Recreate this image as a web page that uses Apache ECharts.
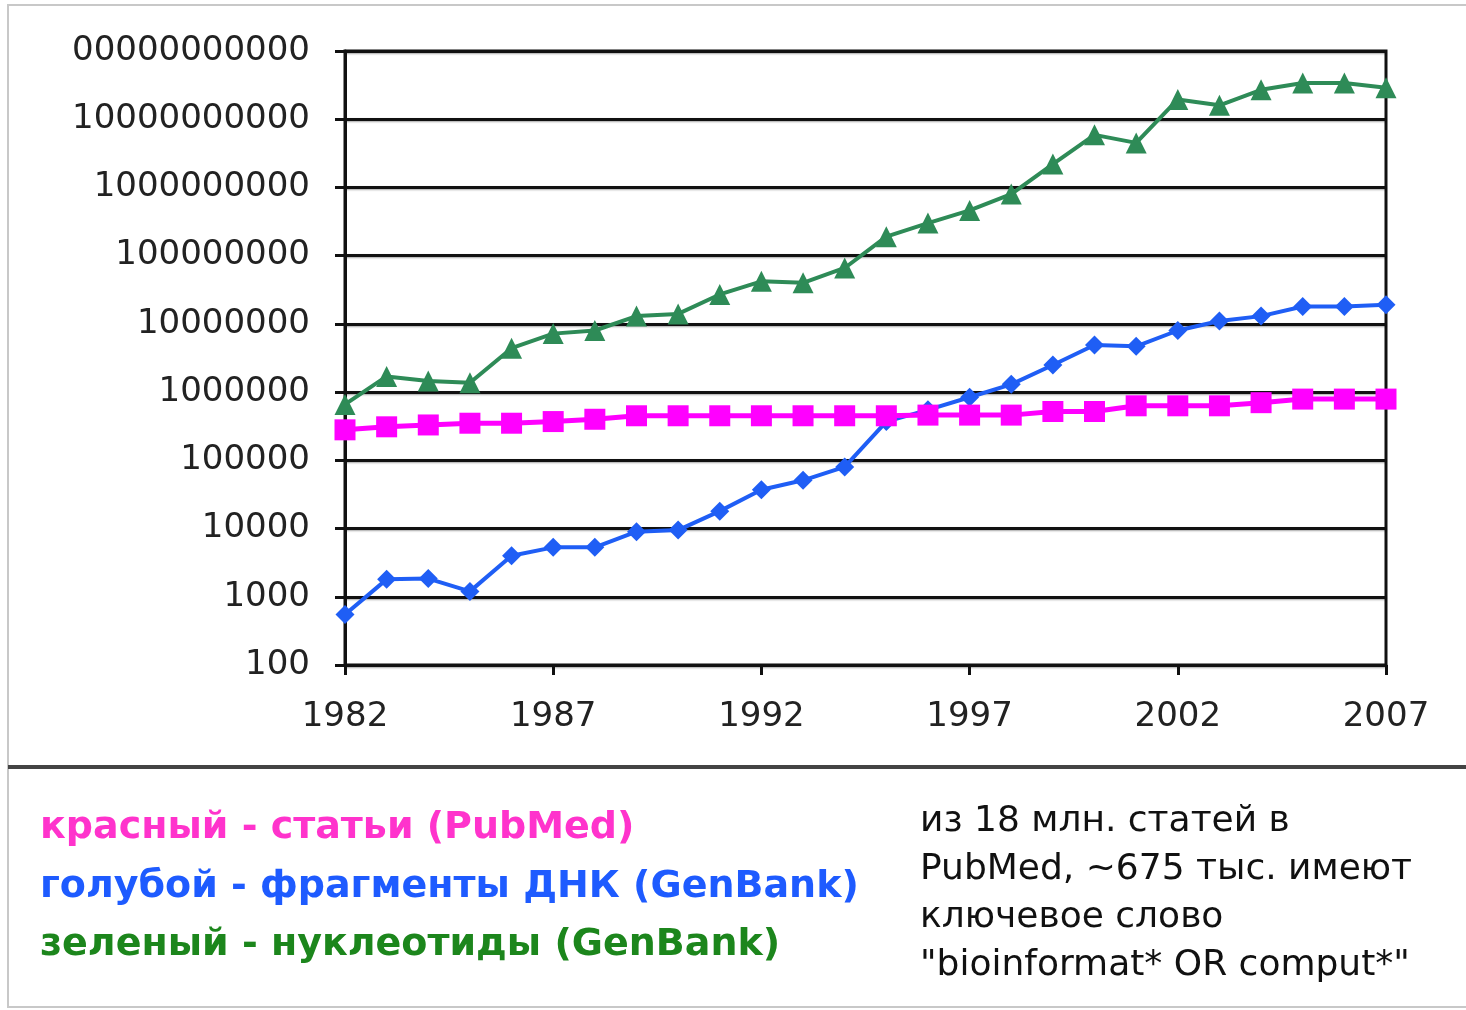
<!DOCTYPE html>
<html>
<head>
<meta charset="utf-8">
<script src="https://cdn.jsdelivr.net/npm/echarts@6/dist/echarts.min.js"></script>
<style>
html,body{margin:0;padding:0;background:#fff;}
#chart{width:1466px;height:1010px;}
</style>
</head>
<body>
<div id="chart"></div>
<script>
var years = ['1982','1983','1984','1985','1986','1987','1988','1989','1990','1991','1992','1993','1994','1995','1996','1997','1998','1999','2000','2001','2002','2003','2004','2005','2006','2007'];
var pubmedArticles = [280000,310000,330000,350000,350000,370000,400000,450000,450000,450000,450000,450000,450000,450000,460000,460000,460000,520000,520000,630000,630000,630000,700000,790000,790000,790000];
var dnaFragments = [550,1800,1850,1200,4000,5300,5300,9000,9500,18000,37000,51000,80000,370000,550000,840000,1300000,2500000,4900000,4700000,8000000,11000000,13000000,18000000,18000000,19000000];
var nucleotides = [660000,1700000,1450000,1370000,4400000,7200000,8000000,13000000,14000000,27000000,42000000,40000000,66000000,190000000,300000000,460000000,800000000,2200000000,5900000000,4500000000,19500000000,16000000000,27000000000,34000000000,34000000000,29000000000];
var yTickValues = [100,1000,10000,100000,1000000,10000000,100000000,1000000000,10000000000,100000000000];
var yTickLabels = ['100','1000','10000','100000','1000000','10000000','100000000','1000000000','10000000000','00000000000'];
var legendLines = ['красный - статьи (PubMed)','голубой - фрагменты ДНК (GenBank)','зеленый - нуклеотиды (GenBank)'];
var noteLines = ['из 18 млн. статей в','PubMed, ~675 тыс. имеют','ключевое слово','"bioinformat* OR comput*"'];

var chart = echarts.init(document.getElementById('chart'));
var labelFont = '"DejaVu Sans", Verdana, sans-serif';
var legendFont = 'bold 38px "DejaVu Sans", sans-serif';
var noteFont = '36px "DejaVu Sans", sans-serif';
var option = {
  animation: false,
  backgroundColor: '#fff',
  grid: {left: 345, right: 80, top: 51, bottom: 345, show: true, borderColor: '#111', borderWidth: 3},
  xAxis: {
    type: 'category',
    data: years,
    boundaryGap: false,
    axisLine: {lineStyle: {color: '#111', width: 3}},
    axisTick: {show: true, interval: 4, length: 10, inside: false, lineStyle: {color: '#111', width: 3}},
    axisLabel: {interval: 4, color: '#222', fontSize: 34, fontFamily: labelFont, margin: 35},
    splitLine: {show: false}
  },
  yAxis: {
    type: 'log',
    logBase: 10,
    min: 100,
    max: 100000000000,
    axisLine: {show: true, lineStyle: {color: '#111', width: 3}},
    axisTick: {show: true, length: 10, lineStyle: {color: '#111', width: 3}},
    axisLabel: {
      color: '#222', fontSize: 34, fontFamily: labelFont, margin: 35,
      formatter: function (v) {
        for (var i = 0; i < yTickValues.length; i++) {
          if (Math.abs(Math.log10(v) - Math.log10(yTickValues[i])) < 1e-6) return yTickLabels[i];
        }
        return '';
      }
    },
    splitLine: {show: true, lineStyle: {color: '#111', width: 3, shadowColor: 'rgba(0,0,0,0.35)', shadowBlur: 2, shadowOffsetY: 1}}
  },
  series: [
    {
      name: 'DNA', type: 'line', data: dnaFragments,
      symbol: 'diamond', symbolSize: 19,
      lineStyle: {color: '#1F5EF5', width: 4},
      itemStyle: {color: '#1F5EF5'}
    },
    {
      name: 'Nucleotides', type: 'line', data: nucleotides,
      symbol: 'triangle', symbolSize: 21,
      lineStyle: {color: '#2E8B57', width: 4},
      itemStyle: {color: '#2E8B57'}
    },
    {
      name: 'PubMed', type: 'line', data: pubmedArticles,
      symbol: 'rect', symbolSize: 21,
      lineStyle: {color: '#FF00FF', width: 5},
      itemStyle: {color: '#FF00FF'}
    }
  ],
  graphic: [
    {type: 'rect', shape: {x: 8, y: 5, width: 1462, height: 1002}, style: {fill: 'none', stroke: '#c8c8c8', lineWidth: 2}, silent: true},
    {type: 'rect', shape: {x: 8, y: 765, width: 1458, height: 4}, style: {fill: '#444'}, silent: true},
    {type: 'text', x: 40, y: 828, style: {text: legendLines[0], fill: '#FF33CC', font: legendFont, verticalAlign: 'middle'}},
    {type: 'text', x: 40, y: 887, style: {text: legendLines[1], fill: '#1E5BFF', font: legendFont, verticalAlign: 'middle'}},
    {type: 'text', x: 40, y: 945, style: {text: legendLines[2], fill: '#1C861C', font: legendFont, verticalAlign: 'middle'}},
    {type: 'text', x: 920, y: 822, style: {text: noteLines[0], fill: '#111', font: noteFont, verticalAlign: 'middle'}},
    {type: 'text', x: 920, y: 870, style: {text: noteLines[1], fill: '#111', font: noteFont, verticalAlign: 'middle'}},
    {type: 'text', x: 920, y: 918, style: {text: noteLines[2], fill: '#111', font: noteFont, verticalAlign: 'middle'}},
    {type: 'text', x: 920, y: 966, style: {text: noteLines[3], fill: '#111', font: noteFont, verticalAlign: 'middle'}}
  ]
};
chart.setOption(option);
</script>
</body>
</html>
